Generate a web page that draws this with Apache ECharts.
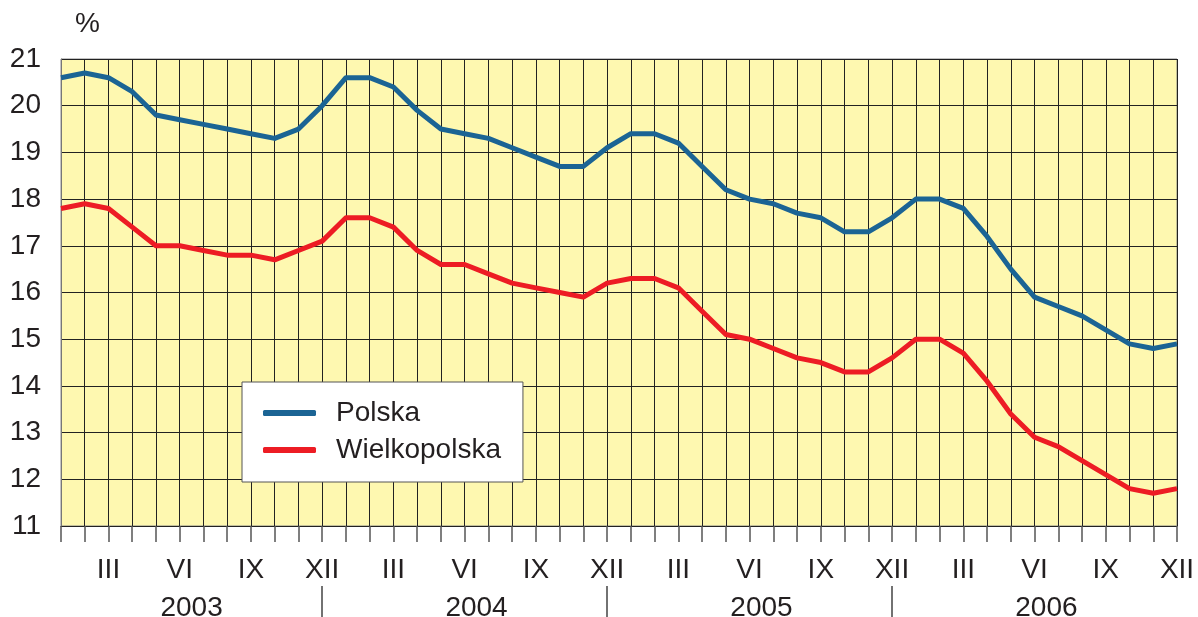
<!DOCTYPE html>
<html>
<head>
<meta charset="utf-8">
<script src="https://cdn.jsdelivr.net/npm/echarts@6/dist/echarts.min.js"></script>
<style>
  html, body { margin: 0; padding: 0; background: #fff; }
  #chart { width: 1198px; height: 617px; }
</style>
</head>
<body>
<div id="chart"></div>
<script>
var years = ['2003', '2004', '2005', '2006'];
var months = ['I', 'II', 'III', 'IV', 'V', 'VI', 'VII', 'VIII', 'IX', 'X', 'XI', 'XII'];
var shownMonths = ['III', 'VI', 'IX', 'XII'];

var polska = [
  20.6, 20.7, 20.6, 20.3, 19.8, 19.7, 19.6, 19.5, 19.4, 19.3, 19.5, 20.0,
  20.6, 20.6, 20.4, 19.9, 19.5, 19.4, 19.3, 19.1, 18.9, 18.7, 18.7, 19.1,
  19.4, 19.4, 19.2, 18.7, 18.2, 18.0, 17.9, 17.7, 17.6, 17.3, 17.3, 17.6,
  18.0, 18.0, 17.8, 17.2, 16.5, 15.9, 15.7, 15.5, 15.2, 14.9, 14.8, 14.9
];
var wielkopolska = [
  17.8, 17.9, 17.8, 17.4, 17.0, 17.0, 16.9, 16.8, 16.8, 16.7, 16.9, 17.1,
  17.6, 17.6, 17.4, 16.9, 16.6, 16.6, 16.4, 16.2, 16.1, 16.0, 15.9, 16.2,
  16.3, 16.3, 16.1, 15.6, 15.1, 15.0, 14.8, 14.6, 14.5, 14.3, 14.3, 14.6,
  15.0, 15.0, 14.7, 14.1, 13.4, 12.9, 12.7, 12.4, 12.1, 11.8, 11.7, 11.8
];

// category per month, e.g. "III 2003"
var categories = [];
years.forEach(function (y) {
  months.forEach(function (m) { categories.push(m + ' ' + y); });
});

var textColor = '#231f20';
var font = 'Liberation Sans';
var fs = 28;

var chart = echarts.init(document.getElementById('chart'));
chart.setOption({
  animation: false,
  title: {
    text: '%',
    left: 70,
    top: 5,
    textStyle: { color: textColor, fontSize: fs, fontWeight: 'normal', fontFamily: font }
  },
  legend: {
    data: ['Polska', 'Wielkopolska'],
    orient: 'vertical',
    left: 242,
    top: 382,
    backgroundColor: '#fff',
    borderColor: '#555',
    borderWidth: 1,
    padding: [17, 22, 18, 21],
    itemGap: 9,
    itemWidth: 53,
    itemHeight: 6,
    icon: 'roundRect',
    textStyle: { color: textColor, fontSize: fs, fontFamily: font, padding: [0, 0, 0, 15] }
  },
  grid: {
    left: 61, right: 21, top: 59, bottom: 91,
    outerBoundsMode: 'none',
    containLabel: false,
    show: true,
    backgroundColor: '#fef8b0',
    borderColor: '#888',
    borderWidth: 1
  },
  xAxis: [{
    type: 'category',
    data: categories,
    boundaryGap: false,
    axisLine: { show: true, lineStyle: { color: '#222', width: 1 } },
    axisTick: { show: true, interval: 0, length: 16, lineStyle: { color: '#555', width: 1.5 } },
    splitLine: { show: true, interval: 0, lineStyle: { color: '#222', width: 1 } },
    axisLabel: {
      interval: 0,
      margin: 30,
      color: textColor,
      fontSize: fs,
      fontFamily: font,
      formatter: function (v) {
        var m = v.split(' ')[0];
        return shownMonths.indexOf(m) >= 0 ? m : '';
      }
    }
  }, {
    type: 'value',
    min: 0,
    max: categories.length - 1,
    position: 'bottom',
    offset: 60,
    axisLine: { show: false },
    splitLine: { show: false },
    axisTick: {
      show: true,
      customValues: [11, 23, 35],
      length: 31,
      lineStyle: { color: '#444', width: 1.5 }
    },
    axisLabel: {
      customValues: years.map(function (y, i) { return 5.5 + 12 * i; }),
      margin: 8,
      color: textColor,
      fontSize: fs,
      fontFamily: font,
      formatter: function (v) { return years[Math.round((v - 5.5) / 12)]; }
    }
  }],
  yAxis: {
    type: 'value',
    min: 11,
    max: 21,
    interval: 1,
    axisLine: { show: true, lineStyle: { color: '#777', width: 1 } },
    axisTick: { show: false },
    splitLine: { show: true, lineStyle: { color: '#222', width: 1 } },
    axisLabel: { margin: 20, color: textColor, fontSize: fs, fontFamily: font }
  },
  series: [{
    name: 'Polska',
    type: 'line',
    data: polska,
    symbol: 'none',
    itemStyle: { color: '#1b6494' },
    lineStyle: { color: '#1b6494', width: 5, join: 'round' }
  }, {
    name: 'Wielkopolska',
    type: 'line',
    data: wielkopolska,
    symbol: 'none',
    itemStyle: { color: '#ed1c24' },
    lineStyle: { color: '#ed1c24', width: 5, join: 'round' }
  }]
});
</script>
</body>
</html>
